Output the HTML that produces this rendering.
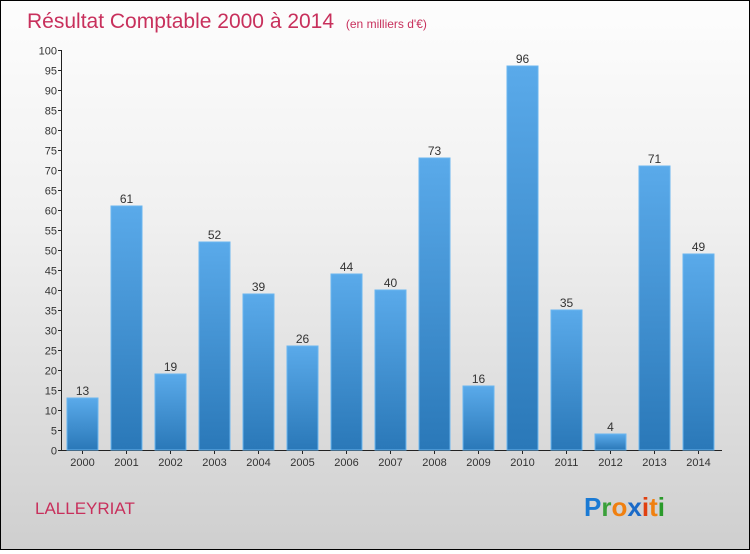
<!DOCTYPE html>
<html><head><meta charset="utf-8"><style>
html,body{margin:0;padding:0}
body{width:750px;height:550px;overflow:hidden;font-family:"Liberation Sans",sans-serif}
#wrap{position:relative;width:748px;height:548px;border:1px solid #000;background:linear-gradient(#fdfdfd 0%,#f0f0f0 40%,#cfcfcf 100%)}
</style></head><body>
<div id="wrap">
<svg id="chart" width="748" height="548">
<defs>
<linearGradient id="bg" x1="0" y1="0" x2="0" y2="1"><stop offset="0" stop-color="#5aaaea"/><stop offset="1" stop-color="#2a78b8"/></linearGradient>
</defs>
<text x="26" y="27" font-size="21" fill="#c8305c">Résultat Comptable 2000 à 2014 <tspan font-size="12" dx="6">(en milliers d'€)</tspan></text>
<text x="34" y="513" font-size="17" fill="#c8305c">LALLEYRIAT</text>
<g font-size="26" font-weight="bold" font-family="'Liberation Sans',sans-serif">
<text x="583" y="515"><tspan fill="#1a7ad4">P</tspan><tspan fill="#3aa03a">r</tspan><tspan fill="#f08010">o</tspan><tspan fill="#1a6ac8">x</tspan><tspan fill="#e04010">i</tspan><tspan fill="#f08010">t</tspan><tspan fill="#2a9a2a">i</tspan></text>
</g>
<g id="axes"></g><g id="bars"></g>
</svg>
</div>
<script>
const years=["2000","2001","2002","2003","2004","2005","2006","2007","2008","2009","2010","2011","2012","2013","2014"];
const values=[13,61,19,52,39,26,44,40,73,16,96,35,4,71,49];
const yTicks=[0,5,10,15,20,25,30,35,40,45,50,55,60,65,70,75,80,85,90,95,100];
const NS="http://www.w3.org/2000/svg";
const y0=449,y1=49,yMax=100;
function yScale(v){return y0-(y0-y1)*v/yMax;}
function xCenter(i){return 81.5+44*i;}
function mk(t,a,p){const e=document.createElementNS(NS,t);for(const k in a)e.setAttribute(k,a[k]);p.appendChild(e);return e;}
const ax=document.getElementById('axes'),bs=document.getElementById('bars');
const yl=mk('line',{x1:60.5,y1:y1,x2:60.5,y2:y0,stroke:'#222'},ax);


const xl=mk('line',{x1:60.5,y1:y0+0.5,x2:721,y2:y0+0.5,stroke:'#222'},ax);


yTicks.forEach(v=>{
 const y=Math.round(yScale(v))+0.5;
 mk('line',{x1:57,y1:y,x2:61,y2:y,stroke:'#222'},ax);
 const t=mk('text',{x:56,y:y+4,'font-size':11,'text-anchor':'end',fill:'#333'},ax);
 t.textContent=v;
 
 
});
years.forEach((yr,i)=>{
 const c=xCenter(i),v=values[i],top=yScale(v);
 const r=mk('rect',{x:c-15.5,y:top,width:31,height:y0-top,fill:'url(#bg)',stroke:'#6ab6f0','stroke-width':1},bs);
 
 
 const l=mk('text',{x:c,y:top-3,'font-size':12,'text-anchor':'middle',fill:'#333'},bs);
 l.textContent=v;
 
 
 mk('line',{x1:c,y1:y0,x2:c,y2:y0+4,stroke:'#222'},ax);
 const t=mk('text',{x:c,y:y0+16,'font-size':11,'text-anchor':'middle',fill:'#333'},ax);
 t.textContent=yr;
 
 
});
</script>
</body></html>
